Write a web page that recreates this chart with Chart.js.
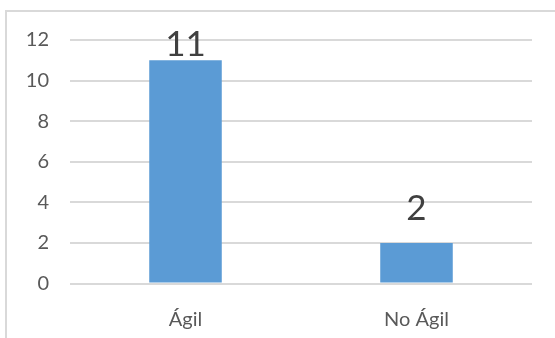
<!DOCTYPE html>
<html>
<head>
<meta charset="utf-8">
<script src="https://cdn.jsdelivr.net/npm/chart.js@4/dist/chart.umd.min.js"></script>
<style>
  html, body { margin: 0; padding: 0; background: #fff; }
  #wrap { width: 555px; height: 338px; position: relative; }
</style>
</head>
<body>
<div id="wrap"><canvas id="myChart" width="555" height="338"></canvas></div>
<script>
const categories = ['Ágil', 'No Ágil'];
const counts = [11, 2];
const yTicks = [0, 2, 4, 6, 8, 10, 12];

const textColor = '#595959';
const gridColor = '#D9D9D9';
const barColor = '#5B9BD5';

// light frame around the whole chart (only top and left edges fall inside the canvas)
const framePlugin = {
    id: 'frame',
    beforeDraw(chart) {
        const c = chart.ctx;
        c.save();
        c.strokeStyle = gridColor;
        c.lineWidth = 2;
        c.strokeRect(6, 11, chart.width + 20, chart.height + 20);
        c.restore();
    }
};

// value labels above each bar, kept inside the plot top
const valueLabels = {
    id: 'valueLabels',
    afterDatasetsDraw(chart) {
        const c = chart.ctx;
        const meta = chart.getDatasetMeta(0);
        c.save();
        c.font = '35px Lato';
        c.fillStyle = '#404040';
        c.textAlign = 'center';
        c.textBaseline = 'alphabetic';
        meta.data.forEach((bar, i) => {
            const y = Math.max(bar.y - 23, chart.chartArea.top + 16);
            c.fillText(String(counts[i]), bar.x, y);
        });
        c.restore();
    }
};

const ctx = document.getElementById('myChart').getContext('2d');

const chart = new Chart(ctx, {
    type: 'bar',
    data: {
        labels: categories,
        datasets: [{
            data: counts,
            backgroundColor: barColor,
            borderWidth: 0,
            categoryPercentage: 1,
            barPercentage: 0.314
        }]
    },
    options: {
        responsive: false,
        animation: false,
        layout: { padding: { top: 40, right: 23, bottom: 0, left: 0 } },
        plugins: {
            legend: { display: false },
            tooltip: { enabled: false }
        },
        scales: {
            x: {
                grid: { display: false },
                border: { display: false },
                ticks: { color: textColor, font: { family: 'Lato', size: 20 }, padding: 16 },
                afterFit(scale) { scale.height = 54.5; }
            },
            y: {
                min: 0,
                max: 12,
                afterBuildTicks(scale) { scale.ticks = yTicks.map(v => ({ value: v })); },
                grid: { color: gridColor, lineWidth: 2, drawTicks: false },
                border: { display: false },
                ticks: { color: textColor, font: { family: 'Lato', size: 20 }, padding: 21 },
                afterFit(scale) { scale.width = 70; }
            }
        }
    },
    plugins: [framePlugin, valueLabels]
});
</script>
</body>
</html>
